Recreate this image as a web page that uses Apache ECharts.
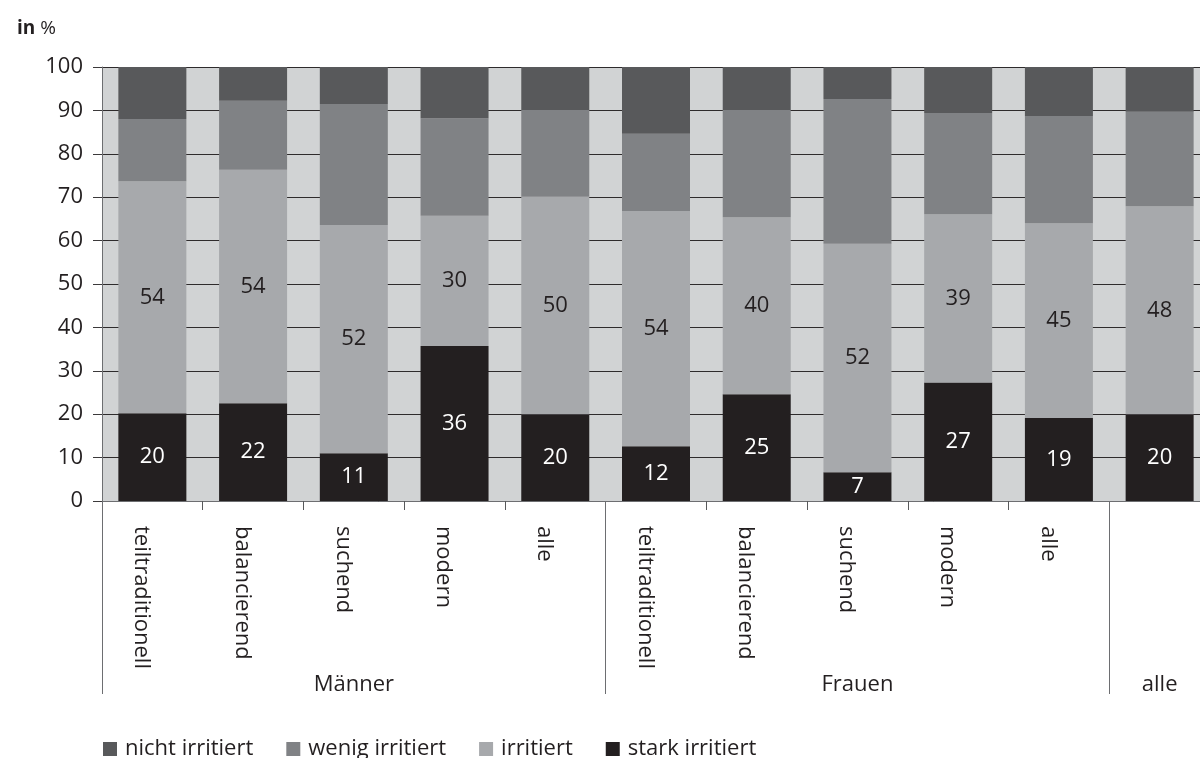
<!DOCTYPE html>
<html>
<head>
<meta charset="utf-8">
<script src="https://cdn.jsdelivr.net/npm/echarts@6/dist/echarts.min.js"></script>
<style>
  html, body { margin: 0; padding: 0; background: #ffffff; overflow: hidden; }
  #chart { width: 1220px; height: 758px; }
</style>
</head>
<body>
<div id="chart"></div>
<script>
// ---- data ----
const categories = ['teiltraditionell', 'balancierend', 'suchend', 'modern', 'alle',
                    'teiltraditionell', 'balancierend', 'suchend', 'modern', 'alle', ''];
const groups = ['Männer', 'Frauen', 'alle'];
const groupSizes = [5, 5, 1];
const seriesNames = ['nicht irritiert', 'wenig irritiert', 'irritiert', 'stark irritiert'];

const stark     = [20.2, 22.5, 11.0, 35.7, 20.0, 12.6, 24.6, 6.6, 27.3, 19.1, 20.0];
const irritiert = [53.5, 53.8, 52.6, 30.0, 50.1, 54.2, 40.8, 52.7, 38.8, 44.9, 47.9];
const wenig     = [14.3, 15.9, 27.9, 22.5, 20.0, 17.8, 24.7, 33.3, 23.3, 24.7, 21.8];
const nicht     = [12.0, 7.8, 8.5, 11.8, 9.9, 15.4, 9.9, 7.4, 10.6, 11.3, 10.3];

const starkLabels     = [20, 22, 11, 36, 20, 12, 25, 7, 27, 19, 20];
const irritiertLabels = [54, 54, 52, 30, 50, 54, 40, 52, 39, 45, 48];

const yTicks = { min: 0, max: 100, interval: 10 };

// ---- derived helpers ----
const groupStarts = [];
const groupLabelIdx = {};
(function () {
  let s = 0;
  groupSizes.forEach((n, g) => {
    groupStarts.push(s);
    groupLabelIdx[s + Math.floor((n - 1) / 2)] = groups[g];
    s += n;
  });
})();

const FONT = "'Open Sans', 'Noto Sans', sans-serif";
const TXT = '#231f20';
const colors = {
  'nicht irritiert': '#58595b',
  'wenig irritiert': '#808285',
  'irritiert': '#a7a9ac',
  'stark irritiert': '#231f20'
};

function barSeries(name, data, labels, labelColor) {
  const s = {
    name: name,
    type: 'bar',
    stack: 'total',
    xAxisIndex: 0,
    barWidth: 68,
    data: data,
    itemStyle: { color: colors[name] },
    emphasis: { disabled: true }
  };
  if (labels) {
    s.label = {
      show: true,
      position: 'inside',
      fontFamily: FONT,
      fontSize: 22,
      color: labelColor,
      formatter: p => String(labels[p.dataIndex])
    };
  }
  return s;
}

const chart = echarts.init(document.getElementById('chart'), null, { renderer: 'canvas' });
chart.setOption({
  animation: false,
  backgroundColor: '#ffffff',
  title: {
    text: '{b|in} {n|%}',
    left: 12,
    top: 14,
    textStyle: {
      rich: {
        b: { fontFamily: FONT, fontSize: 19, fontWeight: 'bold', color: TXT },
        n: { fontFamily: FONT, fontSize: 19, fontWeight: 'normal', color: TXT }
      }
    }
  },
  grid: {
    left: 102,
    top: 67,
    width: 1108,
    bottom: 257,
    show: true,
    backgroundColor: '#d1d3d4',
    borderWidth: 0
  },
  legend: {
    data: seriesNames,
    left: 98,
    top: 733,
    icon: 'rect',
    itemWidth: 14,
    itemHeight: 14,
    itemGap: 33,
    selectedMode: false,
    textStyle: { fontFamily: FONT, fontSize: 22, color: TXT, padding: [0, 0, 0, 3] }
  },
  xAxis: [
    {
      type: 'category',
      data: categories,
      gridIndex: 0,
      position: 'bottom',
      axisLine: { show: true, lineStyle: { color: '#6d6e71', width: 1 } },
      axisTick: { show: true, length: 9, lineStyle: { color: '#58595b', width: 1 } },
      axisLabel: {
        rotate: -90,
        interval: 0,
        margin: 25,
        fontFamily: FONT,
        fontSize: 22,
        color: TXT,
        verticalAlign: 'top'
      },
      splitLine: { show: false }
    },
    {
      type: 'category',
      data: categories,
      gridIndex: 0,
      position: 'bottom',
      axisLine: { show: false },
      axisTick: {
        show: true,
        length: 193,
        interval: (i) => groupStarts.indexOf(i) >= 0,
        lineStyle: { color: '#6d6e71', width: 1 }
      },
      axisLabel: {
        interval: 0,
        margin: 173,
        fontFamily: FONT,
        fontSize: 22,
        color: TXT,
        formatter: (v, i) => groupLabelIdx[i] || ''
      },
      splitLine: { show: false }
    }
  ],
  yAxis: {
    type: 'value',
    min: yTicks.min,
    max: yTicks.max,
    interval: yTicks.interval,
    axisLine: { show: true, lineStyle: { color: '#6d6e71', width: 1 } },
    axisTick: { show: true, length: 9, lineStyle: { color: '#3c3a3b', width: 1 } },
    axisLabel: { margin: 19, fontFamily: FONT, fontSize: 22, color: TXT },
    splitLine: { show: true, lineStyle: { color: '#2e2b2c', width: 1 } }
  },
  series: [
    barSeries('stark irritiert', stark, starkLabels, '#ffffff'),
    barSeries('irritiert', irritiert, irritiertLabels, TXT),
    barSeries('wenig irritiert', wenig, null, null),
    barSeries('nicht irritiert', nicht, null, null)
  ]
});
</script>
</body>
</html>
